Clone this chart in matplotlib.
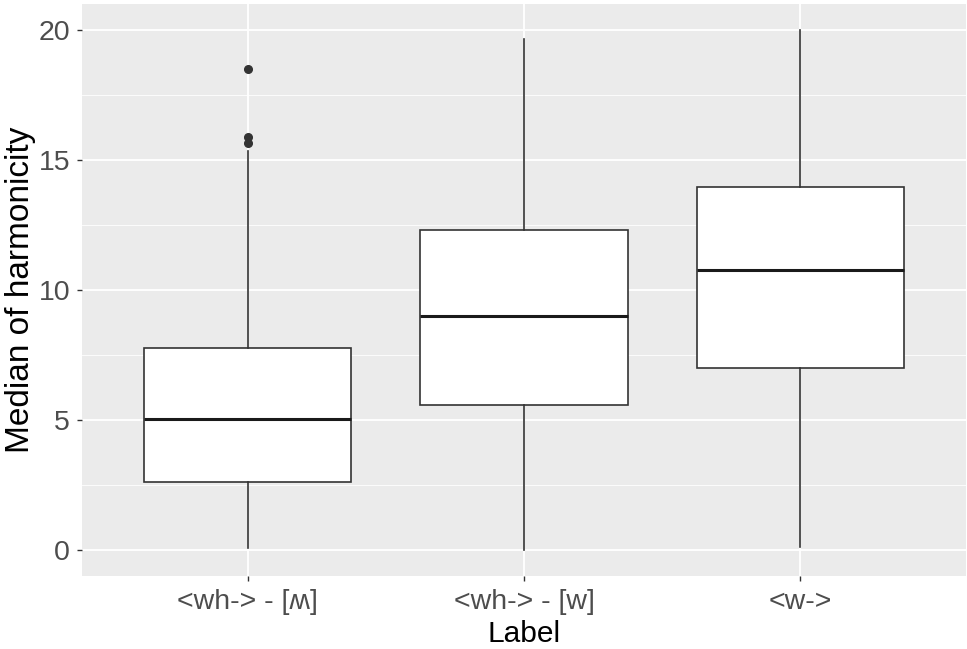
import matplotlib
matplotlib.use("Agg")
import matplotlib.pyplot as plt
from matplotlib.ticker import MultipleLocator

plt.rcParams['font.family'] = ['Liberation Sans', 'DejaVu Sans']

# box stats
labels = ["<wh-> - [ʍ]", "<wh-> - [w]", "<w->"]
whis_lo = [0.06, 0.0, 0.12]
q1 = [2.6, 5.58, 7.0]
medians = [5.04, 9.0, 10.77]
q3 = [7.76, 12.3, 13.96]
whis_hi = [15.35, 19.65, 20.0]
outliers = [[18.5, 15.9, 15.65], [], []]

stats = []
for i in range(len(labels)):
    stats.append(dict(label=labels[i], whislo=whis_lo[i], q1=q1[i], med=medians[i],
                      q3=q3[i], whishi=whis_hi[i], fliers=outliers[i]))

fig = plt.figure(figsize=(9.67, 6.49), dpi=100)
ax = fig.add_axes([82/967, 73/649, 884/967, 572/649])
ax.set_facecolor('#EBEBEB')

ax.bxp(stats, positions=[1, 2, 3], widths=0.75, patch_artist=True, showcaps=False,
       boxprops=dict(facecolor='white', edgecolor='#333333', linewidth=1.2),
       medianprops=dict(color='#1a1a1a', linewidth=2.2),
       whiskerprops=dict(color='#333333', linewidth=1.2),
       flierprops=dict(marker='o', markerfacecolor='#333333', markeredgecolor='#333333',
                       markersize=5.5))

ax.set_xlim(0.4, 3.6)
ax.set_ylim(-1, 21)
ax.yaxis.set_major_locator(MultipleLocator(5))
ax.yaxis.set_minor_locator(MultipleLocator(2.5))
ax.grid(which='major', color='white', linewidth=1.3)
ax.grid(which='minor', axis='y', color='white', linewidth=0.6)
ax.set_axisbelow(True)
for s in ax.spines.values():
    s.set_visible(False)

ax.set_xticks([1, 2, 3])
ax.set_xticklabels(labels)
ax.tick_params(axis='both', which='major', length=3.6, width=1, color='#333333',
               labelcolor='#4D4D4D', labelsize=20.5)
ax.tick_params(axis='y', pad=5)
ax.tick_params(axis='x', pad=6)
ax.tick_params(which='minor', length=0)

ax.set_xlabel("Label", fontsize=21.5, labelpad=3)
ax.set_ylabel("Median of harmonicity", fontsize=24, labelpad=2)

fig.savefig("out.png", dpi=100)
